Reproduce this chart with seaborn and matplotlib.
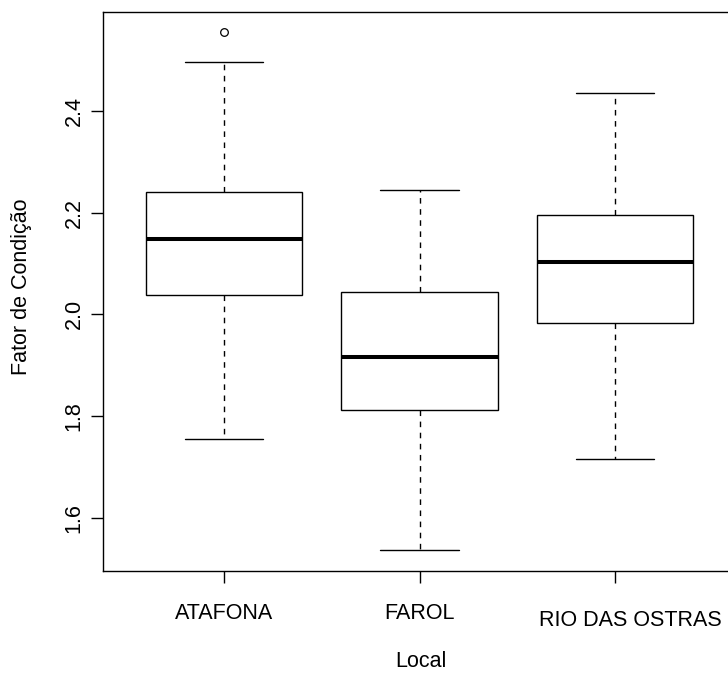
import matplotlib
matplotlib.use("Agg")
import matplotlib.pyplot as plt
import matplotlib.transforms as mtransforms
import seaborn as sns
import pandas as pd

# ---- data (five-number summaries per site) ----
categories = ["ATAFONA", "FAROL", "RIO DAS OSTRAS"]
whisker_low = [1.755, 1.537, 1.716]
q1 = [2.039, 1.813, 1.983]
median = [2.149, 1.916, 2.103]
q3 = [2.240, 2.044, 2.195]
whisker_high = [2.495, 2.245, 2.434]
outliers = [[2.554], [], []]
yticks = [1.6, 1.8, 2.0, 2.2, 2.4]
ytick_labels = ["1.6", "1.8", "2.0", "2.2", "2.4"]
xlabel = "Local"
ylabel = "Fator de Condição"

# long-form table whose quartiles / whiskers reproduce the summaries
rows = []
for i, cat in enumerate(categories):
    vals = [whisker_low[i], q1[i], q1[i], median[i], median[i],
            q3[i], q3[i], whisker_high[i]]
    vals += outliers[i] if outliers[i] else [whisker_high[i]]
    for v in vals:
        rows.append({"Local": cat, "Fator": v})
df = pd.DataFrame(rows)

sns.set_theme(style="white")
plt.rcParams["font.family"] = ["Liberation Sans", "DejaVu Sans"]

DPI = 100
FS = 15.5
fig = plt.figure(figsize=(728 / DPI, 673 / DPI), dpi=DPI)
fig.patch.set_facecolor("white")
ax = fig.add_axes([103 / 728, (673 - 570.7) / 673, 633 / 728, 559 / 673])
ax.set_facecolor("white")

LW = 1.0
sns.boxplot(
    data=df, x="Local", y="Fator", order=categories,
    color="white", linecolor="black", linewidth=LW, width=0.8, whis=1.5,
    saturation=1,
    whiskerprops={"linestyle": (0, (4, 4)), "color": "black"},
    capprops={"color": "black"},
    medianprops={"linewidth": 2.9, "color": "black", "solid_capstyle": "butt"},
    flierprops={"marker": "o", "markerfacecolor": "white",
                "markeredgecolor": "black", "markersize": 5.5,
                "markeredgewidth": 0.9},
    ax=ax,
)

allvals = df["Fator"]
rng = allvals.max() - allvals.min()
ax.set_ylim(allvals.min() - 0.04 * rng, allvals.max() + 0.04 * rng)
ax.set_xlim(-0.62, 2.62)

ax.set_yticks(yticks)
ax.set_yticklabels(ytick_labels)

for s in ax.spines.values():
    s.set_visible(True)
    s.set_color("black")
    s.set_linewidth(LW)

ax.tick_params(axis="both", which="major", direction="out", length=8.6,
               width=LW, color="black", labelcolor="black", labelsize=FS,
               bottom=True, left=True, top=False, right=False)
ax.tick_params(axis="x", pad=14.7)
ax.tick_params(axis="y", pad=4.5, labelrotation=90)
for lab in ax.get_yticklabels():
    lab.set_va("center")

ax.set_xlabel(xlabel, fontsize=FS, color="black", va="baseline")
ax.set_ylabel(ylabel, fontsize=FS, color="black", va="baseline")
ax.xaxis.set_label_coords((420.5 - 103) / 633, (570.7 - 667.3) / 559)
ax.yaxis.set_label_coords((27 - 103) / 633, (570.7 - 287) / 559)

# the third category label sits a little lower/right in the reference
labs = ax.get_xticklabels()
off = mtransforms.ScaledTranslation(11.5 / 72, -5.3 / 72, fig.dpi_scale_trans)
labs[2].set_transform(labs[2].get_transform() + off)

fig.savefig("out.png", dpi=DPI, facecolor="white")
